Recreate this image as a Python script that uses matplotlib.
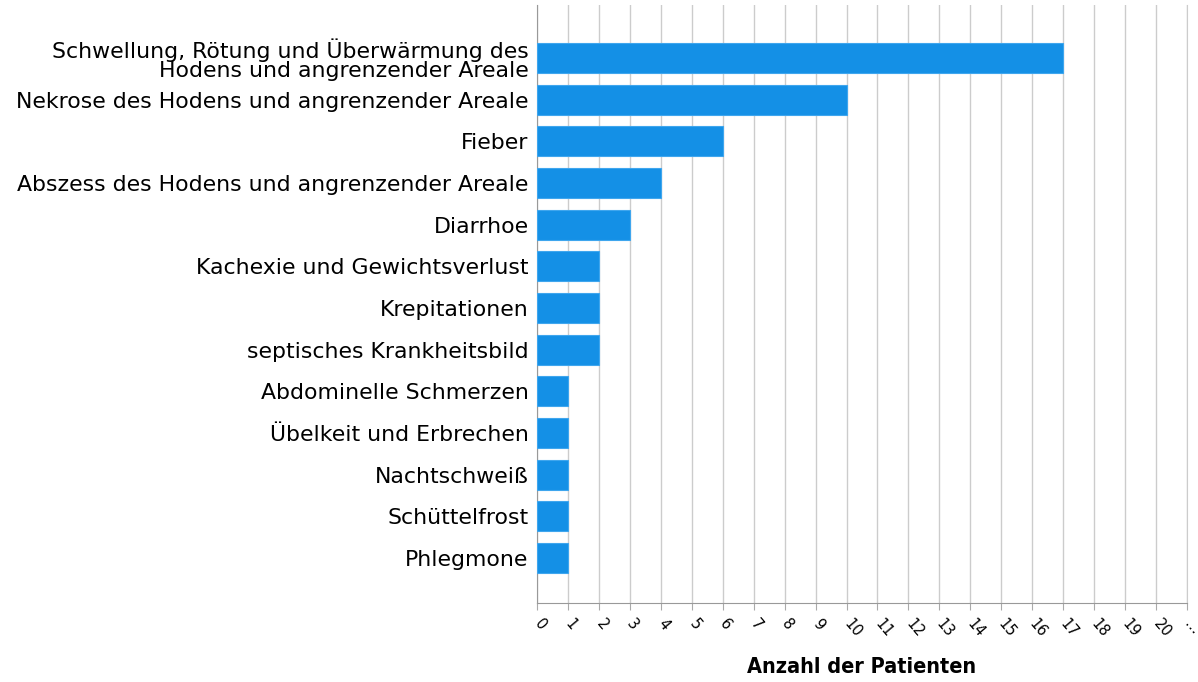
import numpy as np
import matplotlib
matplotlib.use("Agg")
import matplotlib.pyplot as plt

symptome = [
    "Schwellung, Rötung und Überwärmung des\nHodens und angrenzender Areale",
    "Nekrose des Hodens und angrenzender Areale",
    "Fieber",
    "Abszess des Hodens und angrenzender Areale",
    "Diarrhoe",
    "Kachexie und Gewichtsverlust",
    "Krepitationen",
    "septisches Krankheitsbild",
    "Abdominelle Schmerzen",
    "Übelkeit und Erbrechen",
    "Nachtschweiß",
    "Schüttelfrost",
    "Phlegmone",
]
anzahl = [17, 10, 6, 4, 3, 2, 2, 2, 1, 1, 1, 1, 1]
xticks = list(range(0, 22))
xticklabels = [str(i) for i in range(0, 21)] + ["…"]

plt.rcParams["font.family"] = "DejaVu Sans"

fig = plt.figure(figsize=(11.98, 6.82), dpi=100)
ax = fig.add_axes([537 / 1198, 1 - 603 / 682, 650 / 1198, 598 / 682])

y = np.arange(len(symptome))
ax.barh(y, anzahl, height=0.72, color="#1490E6", edgecolor="#3FA6EE", linewidth=0.8, zorder=3)

ax.set_xlim(0, 21)
ax.set_ylim(len(symptome) - 1 + 1.08, -1.27)
ax.set_xticks(xticks)
ax.set_xticklabels(xticklabels, rotation=-50, ha="left", va="center",
                   rotation_mode="anchor", fontsize=10.5)
ax.set_yticks(y)
ax.set_yticklabels(symptome, fontsize=15.8, linespacing=0.98)
ax.tick_params(axis="y", length=0, pad=6)
ax.tick_params(axis="x", length=5, color="#AAAAAA", pad=8)

ax.grid(axis="x", color="#CCCCCC", linewidth=1, zorder=0)
ax.spines["top"].set_visible(False)
ax.spines["right"].set_color("#CCCCCC")
ax.spines["left"].set_color("#999999")
ax.spines["bottom"].set_color("#999999")

fig.text(862 / 1198, 1 - 667 / 682, "Anzahl der Patienten", ha="center", va="center",
         fontsize=15.5, fontweight="bold", fontstretch="condensed")

fig.savefig("out.png", dpi=100)
